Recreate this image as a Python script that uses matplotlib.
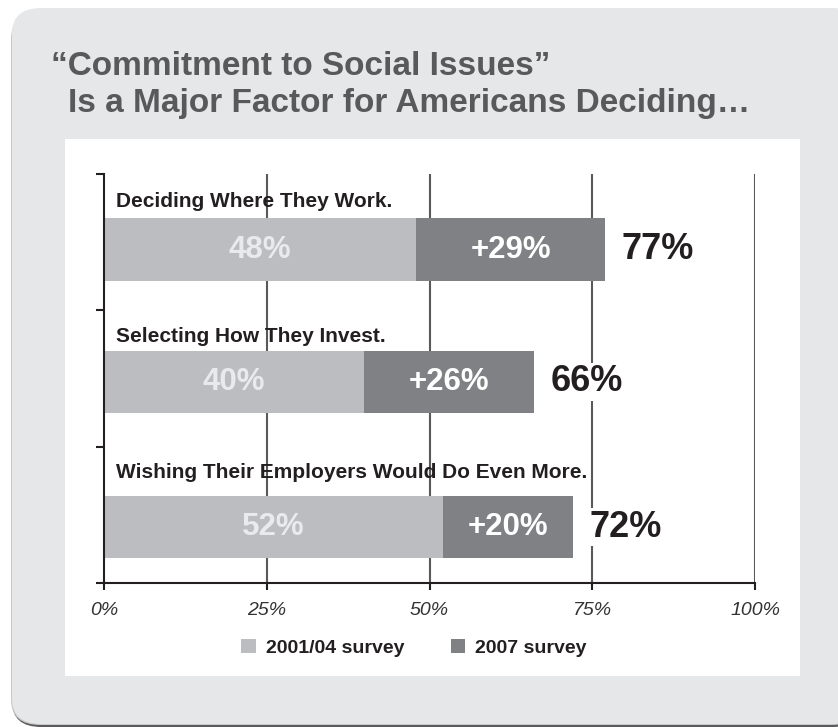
import matplotlib
matplotlib.use("Agg")
import matplotlib.pyplot as plt
from matplotlib.patches import FancyBboxPatch, Rectangle, Patch

plt.rcParams['font.family'] = ['Liberation Sans', 'DejaVu Sans']

# data
categories = ["Deciding Where They Work.",
              "Selecting How They Invest.",
              "Wishing Their Employers Would Do Even More."]
survey_2001_04 = [48, 40, 52]
increase_2007 = [29, 26, 20]
total_2007 = [77, 66, 72]
x_ticks = [0, 25, 50, 75, 100]
x_tick_labels = ["0%", "25%", "50%", "75%", "100%"]
series_names = ["2001/04 survey", "2007 survey"]

# layout (band units, 0 = top of axis)
bar_y = [0.555, 1.525, 2.59]
label_y = [0.245, 1.235, 2.23]
bar_h = 0.46

LIGHT = '#bcbdc0'
DARK = '#808184'
INK = '#231f20'
LINE = '#58595b'

W, H = 838, 727
fig = plt.figure(figsize=(W / 100, H / 100), dpi=100)
fig.patch.set_facecolor('white')

# rounded grey card with a soft shadow
for dx, dy, col in [(0, -3, '#5a5a5a'), (-1, -1, '#c8c9cb')]:
    fig.add_artist(FancyBboxPatch(((12 + dx) / W, (3 + dy) / H), 850 / W, 712 / H,
                                  boxstyle="round,pad=0,rounding_size=0.035",
                                  transform=fig.transFigure, facecolor=col,
                                  edgecolor='none', zorder=-12))
fig.add_artist(FancyBboxPatch((12 / W, 3 / H), 850 / W, 716 / H,
                              boxstyle="round,pad=0,rounding_size=0.035",
                              transform=fig.transFigure, facecolor='#e6e7e8',
                              edgecolor='none', zorder=-11))
# white inner panel
fig.add_artist(Rectangle((65 / W, (H - 676) / H), 735 / W, 537 / H,
                         transform=fig.transFigure, facecolor='white',
                         edgecolor='none', zorder=-10))

# title
fig.text(51 / W, 1 - 75 / H, "\u201cCommitment to Social Issues\u201d",
         fontsize=24, fontweight='bold', color=LINE, va='baseline', ha='left')
fig.text(68 / W, 1 - 112 / H, "Is a Major Factor for Americans Deciding\u2026",
         fontsize=24, fontweight='bold', color=LINE, va='baseline', ha='left')

ax = fig.add_axes([104 / W, (H - 583) / H, 651 / W, 409 / H])
ax.set_facecolor('none')
ax.set_xlim(0, 100)
ax.set_ylim(3, 0)

for gx in x_ticks[1:]:
    ax.axvline(gx, color=LINE, lw=1.5, zorder=0)

ax.barh(bar_y, survey_2001_04, height=bar_h, color=LIGHT, zorder=2)
ax.barh(bar_y, increase_2007, left=survey_2001_04, height=bar_h, color=DARK, zorder=2)

for i, cat in enumerate(categories):
    ax.text(1.8, label_y[i], cat, fontsize=15, fontweight='bold', color=INK,
            ha='left', va='baseline', zorder=3)
    ax.text(survey_2001_04[i] / 2, bar_y[i], f"{survey_2001_04[i]}%",
            fontsize=22.5, fontweight='bold', color='#e9eaeb',
            ha='center', va='center', zorder=3)
    ax.text(survey_2001_04[i] + increase_2007[i] / 2, bar_y[i], f"+{increase_2007[i]}%",
            fontsize=22.5, fontweight='bold', color='white',
            ha='center', va='center', zorder=3)
    ax.annotate(f"{total_2007[i]}%", (total_2007[i], bar_y[i]),
                xytext=(12, 0), textcoords='offset points',
                fontsize=26, fontweight='bold', color=INK,
                ha='left', va='center', zorder=3,
                bbox=dict(boxstyle='square,pad=0.05', fc='white', ec='none'))

for s in ['top', 'right']:
    ax.spines[s].set_visible(False)
for s in ['left', 'bottom']:
    ax.spines[s].set_color(INK)
    ax.spines[s].set_linewidth(1.5)

ax.set_xticks(x_ticks)
ax.set_xticklabels(x_tick_labels, fontsize=14, fontstyle='italic', color='#333333')
ax.set_yticks([0, 1, 2, 3])
ax.set_yticklabels([])
ax.tick_params(axis='x', direction='out', length=5, width=1.5, color=INK, pad=9)
ax.tick_params(axis='y', direction='out', length=6, width=1.5, color=INK)

handles = [Patch(facecolor=LIGHT, edgecolor='none'),
           Patch(facecolor=DARK, edgecolor='none')]
leg = fig.legend(handles, series_names, loc='center', ncol=2,
                 bbox_to_anchor=(414 / W, 1 - 648 / H), frameon=False,
                 handlelength=0.75, handleheight=0.75, handletextpad=0.5,
                 columnspacing=2.4, prop={'weight': 'bold', 'size': 14})
for t in leg.get_texts():
    t.set_color(INK)

fig.savefig('out.png', dpi=100)
